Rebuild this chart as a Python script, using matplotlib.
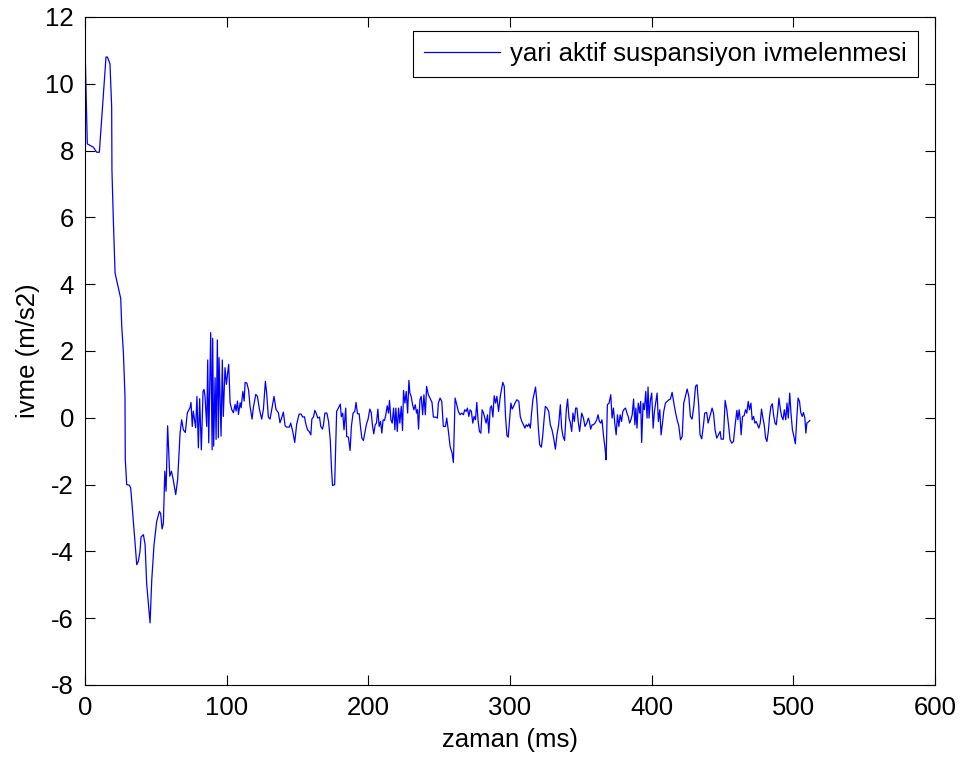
import matplotlib
matplotlib.use("Agg")
import matplotlib.pyplot as plt

plt.rcParams['font.family'] = ['Liberation Sans', 'DejaVu Sans']
plt.rcParams['axes.unicode_minus'] = False

# zaman (ms) and ivme (m/s2)
t_ms = [0, 1.6, 5.9, 8.2, 10.1, 14.8, 15.8, 17.6, 18.8, 19.0, 20.0, 21.2, 23.5, 25.2,
        25.9, 27.1, 28.2, 28.4, 29.4, 31.3, 32.2, 33.0, 36.5, 37.6, 38.8, 39.5, 41.2,
        42.4, 43.5, 45.9, 47.1, 48.7, 50.6, 52.5, 53.4, 54.4, 55.3,
        56.3, 57.2, 58.3, 59.8, 61.0, 62.2, 64.0, 65.4, 67.1, 68.2, 69.4, 70.8, 72.2,
        74.1, 74.8, 75.7, 76.4, 78.1, 79.0, 80.0, 80.9, 82.1, 83.3, 84.0, 84.7, 85.9,
        86.6, 87.3, 88.7, 89.7, 90.1, 90.8, 91.8, 92.5, 93.4, 94.1, 94.6, 96.0, 96.9,
        97.6, 98.8, 99.8, 100.7, 101.4, 102.4, 103.5, 104.7, 105.9, 106.6, 107.6,
        108.3, 109.5, 110.2, 111.4, 112.3, 113.0, 114.2, 115.4, 116.5, 117.9, 118.8,
        120.5, 121.7, 123.1, 124.7, 125.9, 127.3, 128.2, 129.4, 130.6, 131.8, 133.4,
        134.8, 136.5, 137.6, 138.8, 140.0, 141.2, 142.3, 144.2, 145.2,
        146.6, 148.0, 149.4, 151.1, 152.5, 153.7, 154.9, 155.6, 157.0, 158.2, 159.4,
        160.1, 161.3, 162.2, 163.1, 164.3, 165.5, 166.4, 167.6, 168.3, 169.3, 170.7,
        171.9, 173.1, 174.0, 174.7, 176.2, 176.9, 177.6, 178.8, 180.2, 180.9, 181.9,
        182.8, 184.0, 184.7, 185.9, 187.1, 188.0, 189.2, 190.4, 191.3, 192.3, 193.5,
        194.4, 195.4, 196.5, 197.7, 198.7, 199.8, 201.0, 202.0, 202.9, 203.8, 204.8,
        205.7, 206.7, 207.6, 208.6, 209.5, 210.4, 211.4, 212.3, 213.3, 214.2, 214.9,
        215.9, 216.8, 217.8, 218.7, 219.4, 220.4, 221.3, 222.2, 223.2, 224.1, 224.8,
        225.8, 226.7, 227.7, 228.6, 229.3, 230.2, 231.2, 232.1, 233.1, 234.0, 234.7,
        235.4, 236.4, 237.3, 238.3, 239.2, 240.2, 241.1, 242.3, 243.5, 244.9, 245.9,
        247.5,
        248.7, 249.4, 250.6, 251.8, 252.9, 254.4, 255.3, 256.5, 257.7, 259.1, 260.0,
        261.2, 262.4, 263.5, 264.7, 265.9, 267.1, 268.0, 269.0, 269.9, 270.9, 271.8,
        272.7, 273.7, 274.6, 275.6, 276.5, 277.5, 278.4, 279.4, 280.3, 281.3, 282.2,
        283.1, 284.1, 285.0, 286.0, 286.9, 287.9, 288.8, 289.8, 290.7, 291.9, 293.1,
        294.0, 294.9, 295.9, 296.8, 297.8, 298.7, 299.7, 300.6, 301.5, 302.5, 303.7,
        304.8, 306.2, 307.2, 308.3, 309.5, 310.5, 311.4, 312.4, 313.3, 314.3, 315.2,
        316.1, 317.1, 318.0, 319.0, 319.9, 320.9, 322.1, 323.0, 324.0, 324.9, 326.1,
        327.3, 328.4, 329.6, 330.8, 332.0, 333.1, 334.3, 335.5, 336.4, 337.4, 338.5,
        339.7, 340.6, 341.6, 342.5, 343.5, 344.4, 345.4, 346.3, 347.2, 348.2, 349.1,
        350.6, 351.8, 352.9, 354.1, 355.3, 356.0, 356.9, 357.9, 358.8, 360.0, 361.2,
        362.1, 363.1, 364.0, 364.9, 365.9, 367.1, 367.8, 368.7, 369.9, 371.1, 372.0,
        373.0, 373.9, 374.9, 375.8, 376.8, 377.7, 378.7, 379.6, 380.6, 381.5, 382.5,
        383.4, 384.4, 385.3, 386.2, 387.2, 388.1, 388.8, 389.6, 390.5, 391.5, 392.2,
        392.9, 393.9, 394.8, 395.8, 396.7, 397.4, 398.1, 399.1, 400.0, 401.0, 401.9,
        402.9, 403.8, 404.7, 405.7, 406.6, 407.6, 408.5, 409.7, 410.9, 412.1, 413.2,
        414.4, 415.6, 416.8, 417.9, 419.1, 420.3, 421.5, 422.6, 423.8, 425.0, 426.2,
        427.3, 428.5, 429.7, 430.9, 432.0,
        433.2, 434.1, 435.3, 436.4, 437.4, 438.8, 439.8, 440.7, 441.7, 442.6, 443.6,
        444.7, 445.9, 447.1, 448.3, 449.0, 449.9, 450.6, 451.8, 453.0, 454.2, 455.3,
        456.5, 457.7, 458.9, 460.1, 460.8, 461.7, 462.4, 463.1, 464.1, 465.2, 466.2,
        467.1, 468.1, 469.0, 470.0, 470.9, 471.9, 472.8, 473.7, 474.7, 475.6, 476.6,
        477.5, 478.5, 479.4, 480.4, 481.3, 482.3, 483.2, 484.1, 485.1, 486.0, 487.0,
        487.9, 488.9, 489.8, 490.8, 491.7, 492.7, 493.6, 494.6, 495.5, 496.4, 497.4,
        498.3, 499.3, 500.2, 501.4, 502.4, 503.3, 504.3, 505.2, 506.2, 507.1, 508.1,
        508.8, 509.5, 510.7, 511.6]

ivme = [11.1, 8.2, 8.1, 7.95, 7.95, 10.8, 10.8, 10.6, 9.3, 7.4, 5.9, 4.33, 3.9, 3.57,
        2.75, 1.93, 0.64, -1.23, -2.0, -2.02, -2.1, -2.5, -4.4, -4.3, -4.0, -3.57, -3.5,
        -3.8, -4.97, -6.14, -4.85, -3.8, -3.1, -2.8, -2.87, -3.33, -3.16,
        -1.6, -2.2, -0.24, -1.75, -1.6, -1.84, -2.3, -1.84, -0.45, -0.06, -0.36, -0.44, 0.15,
        0.3, 0.46, -0.26, 0.2, -0.3, 0.64, -0.9, 0.57, -0.96, 0.79, 0.85, 0.64, -0.26,
        1.73, -0.75, 2.55, -0.96, 2.38, -0.85, 1.2, -0.65, 2.33, -0.6, 1.8, -0.55, 1.73,
        0.04, 1.5, 1.0, 1.36, 1.6, 0.45, 0.25, 0.15, 0.4, 0.2, 0.5,
        0.1, 0.45, 0.3, 0.79, 0.5, 1.06, 1.04, 0.84, 0.34, -0.04, 0.3,
        0.7, 0.64, 0.25, -0.04, 0.25, 1.09, 0.74, 0.02, -0.04, 0.25, 0.64,
        0.25, 0.15, -0.15, 0.0, 0.17, -0.24, -0.28, -0.28, -0.16,
        -0.41, -0.74, -0.19, 0.11, 0.11, 0.02, 0.03, -0.14, -0.36, -0.41, -0.51,
        -0.04, 0.03, 0.22, 0.14, -0.01, 0.02, -0.26, -0.34, -0.21, 0.14, 0.14,
        -0.11, -0.66, -1.55, -2.03, -2.0, -0.86, 0.19, 0.29, 0.41, 0.03, 0.14,
        -0.36, 0.29, -0.56, -0.58, -0.98, -0.26, 0.14, 0.19, 0.46, 0.12, 0.12,
        -0.26, -0.61, -0.68, -0.41, -0.18, -0.04, 0.26, 0.16, -0.24, -0.48, -0.21,
        -0.16, 0.26, -0.26, -0.11, -0.46, -0.06, -0.08, 0.09, 0.36, 0.14, 0.52,
        -0.06, -0.16, 0.29, -0.36, 0.29, -0.41, 0.29, -0.16, 0.34, -0.38, 0.82,
        0.44, 0.79, 0.14, 1.12, 0.74, 0.64, 0.39, 0.24, 0.39, 0.14, 0.24,
        -0.34, 0.54, 0.64, 0.09, 0.69, 0.09, 0.94, 0.69, 0.59, 0.46, 0.02,
        0.02,
        -0.01, 0.44, 0.59, 0.49, -0.26, -0.26, -0.01, -0.41, -0.86, -1.06, -1.34,
        0.59, 0.39, 0.19, 0.09, 0.14, 0.09, 0.24, 0.19, 0.29, 0.04, 0.24,
        0.19, -0.16, 0.04, -0.06, 0.46, -0.11, -0.41, -0.46, 0.24, 0.14, -0.01,
        -0.16, 0.09, -0.46, 0.29, 0.36, 0.02, 0.66, 0.44, 0.64, 0.19, 0.64,
        0.86, 1.06, 0.94, 0.04, -0.53, -0.58, -0.06, 0.44, 0.26, 0.34, 0.46,
        0.54, 0.49, 0.04, -0.11, -0.21, -0.31, -0.21, -0.26, -0.18, -0.31, 0.14,
        0.54, 0.74, 0.92, 0.44, -0.26, -0.81, -0.88, -0.56, -0.06, 0.34, 0.29,
        0.19, -0.21, -0.36, -0.61, -0.94, -0.51, -0.21, 0.39, -0.31, -0.56, -0.68,
        0.24, 0.56, -0.01, -0.14, -0.41, 0.14, -0.11, 0.29, 0.29, -0.14, -0.41,
        0.14, -0.01, -0.26, -0.16, -0.01, -0.11, -0.34, -0.21, -0.21, -0.16, -0.06,
        0.09, -0.11, -0.16, -0.06, -0.51, -0.94, -1.26, 0.39, 0.44, 0.69, -0.01,
        0.29, -0.16, -0.51, 0.09, -0.26, 0.09, -0.11, 0.19, 0.26, 0.29, 0.14,
        0.04, -0.16, -0.06, 0.09, 0.56, -0.21, 0.29, -0.31, 0.44, 0.14, 0.49,
        -0.74, 0.44, 0.24, 0.79, -0.01, 0.92, -0.01, 0.54, 0.74, -0.31, 0.19,
        0.49, 0.74, -0.11, 0.24, -0.51, -0.16, 0.19, 0.44, 0.49, 0.54, 0.56,
        0.76, 0.44, 0.16, -0.06, -0.24, -0.66, -0.56, 0.44, 0.64, 0.86, 0.64,
        0.04, -0.04, 0.34, 0.94, 0.99,
        0.34, -0.51, -0.63, -0.26, 0.14, 0.16, -0.16, -0.01, 0.14, 0.29, 0.14,
        -0.36, -0.61, -0.51, -0.41, -0.64, -0.64, -0.64, 0.52, 0.24, -0.21, -0.66,
        -0.76, -0.71, -0.21, 0.22, -0.06, 0.24, -0.01, -0.51, 0.04, 0.06, 0.24,
        0.14, 0.49, 0.24, 0.44, -0.06, 0.04, -0.16, -0.11, -0.21, -0.31, -0.16,
        0.26, -0.01, -0.21, -0.61, -0.71, -0.41, 0.04, 0.34, 0.42, 0.09, -0.16,
        -0.21, 0.16, 0.59, 0.26, 0.04, -0.06, 0.24, -0.06, 0.44, -0.01, 0.74,
        0.14, -0.36, -0.53, -0.78, -0.01, 0.59, 0.49, 0.16, 0.04, 0.16, -0.01,
        -0.46, -0.16, -0.12, -0.08]

x_ticks = [0, 100, 200, 300, 400, 500, 600]
y_ticks = [-8, -6, -4, -2, 0, 2, 4, 6, 8, 10, 12]

fig = plt.figure(figsize=(9.63, 7.61), dpi=100)
ax = fig.add_axes([0.0883, 0.0999, 0.8827, 0.8778])

ax.plot(t_ms, ivme, color='#0000ff', lw=0.9, label='yari aktif suspansiyon ivmelenmesi')

ax.set_xlim(0, 600)
ax.set_ylim(-8, 12)
ax.set_xticks(x_ticks)
ax.set_yticks(y_ticks)
ax.tick_params(direction='in', length=7, width=0.8, top=True, right=True,
               labelsize=18.5, pad=8)
for s in ax.spines.values():
    s.set_linewidth(0.8)

ax.set_xlabel('zaman (ms)', fontsize=18.5, labelpad=6)
ax.set_ylabel('ivme (m/s2)', fontsize=18.5, labelpad=4)

# legend box placed like the MATLAB one
leg = ax.legend(loc='upper right', bbox_to_anchor=(0.9795, 0.979), borderaxespad=0,
                fontsize=18.5, fancybox=False, framealpha=1, edgecolor='black',
                handlelength=2.95, borderpad=0.42, handletextpad=0.4)
leg.get_frame().set_linewidth(0.8)

fig.savefig('out.png', dpi=100)
